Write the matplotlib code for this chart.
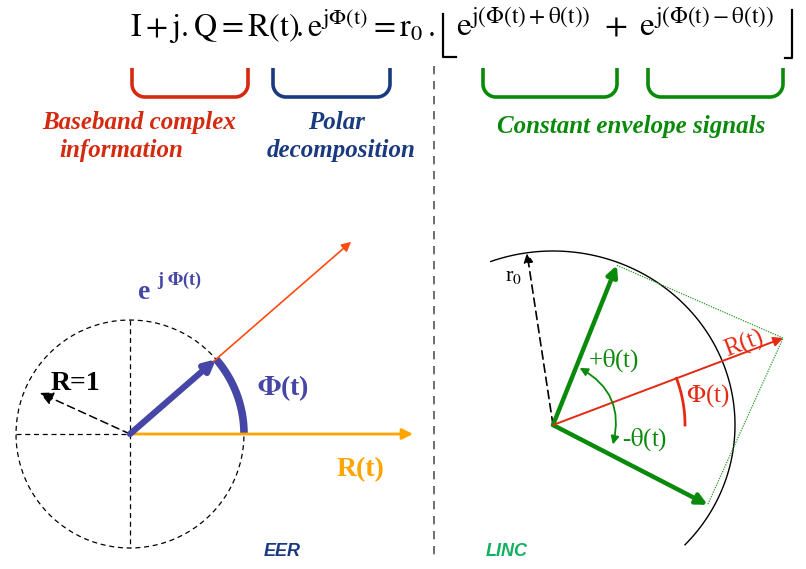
import numpy as np
import matplotlib.pyplot as plt
import matplotlib as mpl

mpl.rcParams['mathtext.fontset'] = 'stix'

# --- diagram values (pixel space of the 806x569 slide) ---
eer_center = (130, 434)
eer_radius = 114
eer_phi_deg = 41
eer_long_len = 293
eer_r_len = 283
eer_unit_deg = 155.5
eer_unit_len = 99

linc_center = (553, 425)
linc_r0_axes = (182, 174)
linc_phi_deg = 20.7
linc_R_len = 246
linc_up = (68.2, 172)      # angle, length
linc_down = (-27.3, 174)
linc_r0_deg = 98.6
linc_r0_len = 174

eq_left = r'$\mathrm{I+j.Q=R\left(t\right)\!.e^{j\Phi(t)}=r_0\,.}$'
eq_right = r'$\mathrm{e^{j(\Phi(t)+\theta(t))}\ +\ e^{j(\Phi(t)-\theta(t))}}$'
brackets = [(132, 248, '#d42a10'), (273, 390, '#1a3a80'),
            (483, 617, '#0a8a0a'), (648, 783, '#0a8a0a')]

RED = '#d42a10'
NAVY = '#1a3a80'
GREEN = '#0a8a0a'
BLUE = '#4646a6'
ORANGE = '#ffa500'


def pt(c, r, deg):
    a = np.radians(deg)
    return (c[0] + r * np.cos(a), c[1] - r * np.sin(a))


def arrow(ax, start, end, color, lw, ms=14, ls='-', style='-|>'):
    ax.annotate('', xy=end, xytext=start,
                arrowprops=dict(arrowstyle=style, color=color, lw=lw, ls=ls,
                                mutation_scale=ms, shrinkA=0, shrinkB=0))


def arc(ax, c, rx, ry, a0, a1, **kw):
    t = np.radians(np.linspace(a0, a1, 100))
    ax.plot(c[0] + rx * np.cos(t), c[1] - ry * np.sin(t), **kw)


fig = plt.figure(figsize=(8.06, 5.69), dpi=100)
ax = fig.add_axes([0, 0, 1, 1])
ax.set_xlim(0, 806)
ax.set_ylim(569, 0)
ax.set_aspect('equal')
ax.axis('off')

serif = 'Liberation Serif'

# equation, split around the floor brackets
ax.text(435, 26, eq_left, fontsize=23, ha='right', va='center', color='black')
ax.text(456, 26, eq_right, fontsize=24, ha='left', va='center', color='black')
ax.plot([456, 443, 443], [57, 57, 14], color='black', lw=1.6)
ax.plot([785, 792, 792], [58, 58, 10], color='black', lw=1.6)

# brackets
for x0, x1, col in brackets:
    r = 13
    t = np.linspace(np.pi, 1.5 * np.pi, 20)
    xs = [x0] + list(x0 + r + r * np.cos(t)) + list(x1 - r - r * np.cos(t[::-1])) + [x1]
    ys = [68] + list(97 - r - r * np.sin(t)) + list(97 - r - r * np.sin(t[::-1])) + [68]
    ax.plot(xs, ys, color=col, lw=2.6, solid_capstyle='butt')

lab = dict(fontfamily=serif, fontweight='bold', fontstyle='italic', fontsize=18, ha='center', va='center')
ax.text(139, 122, 'Baseband complex', color=RED, **lab)
ax.text(121, 150, 'information', color=RED, **lab)
ax.text(337, 122, 'Polar', color=NAVY, **lab)
ax.text(341, 150, 'decomposition', color=NAVY, **lab)
ax.text(631, 126, 'Constant envelope signals', color=GREEN, **lab)

# separator
ax.plot([434, 434], [66, 560], color='#555555', lw=1.2, ls=(0, (5, 4)))

# ---------------- EER ----------------
c = eer_center
arc(ax, c, eer_radius, eer_radius, 0, 360, color='black', lw=0.9, ls=(0, (4, 3)))
ax.plot([c[0] - eer_radius, c[0]], [c[1], c[1]], color='black', lw=0.9, ls=(0, (4, 3)))
ax.plot([c[0], c[0]], [c[1] - eer_radius, c[1] + eer_radius], color='black', lw=0.9, ls=(0, (4, 3)))
arrow(ax, c, pt(c, eer_unit_len, eer_unit_deg), 'black', 1.1, ms=20, ls=(0, (5, 3)))
ax.text(51, 383, 'R=1', fontfamily=serif, fontweight='bold', fontsize=20, ha='left', va='center')

arrow(ax, c, pt(c, eer_long_len, eer_phi_deg), '#ff4a10', 1.2, ms=14)
arrow(ax, c, (c[0] + eer_r_len, c[1]), ORANGE, 2.0, ms=16)
arc(ax, c, eer_radius, eer_radius, 0, eer_phi_deg, color=BLUE, lw=5.5, solid_capstyle='butt')
arrow(ax, c, pt(c, eer_radius, eer_phi_deg), BLUE, 4.5, ms=16)

ax.text(138, 292, 'e', fontfamily=serif, fontweight='bold', fontsize=20, color=BLUE, ha='left', va='center')
ax.text(157, 280, r'j $\mathbf{\Phi}$(t)', fontfamily=serif, fontweight='bold', fontsize=13, color=BLUE,
        ha='left', va='center')
ax.text(257, 388, r'$\mathbf{\Phi}$(t)', fontfamily=serif, fontweight='bold', fontsize=20, color=BLUE,
        ha='left', va='center')
ax.text(337, 470, 'R(t)', fontfamily=serif, fontweight='bold', fontsize=20, color=ORANGE,
        ha='left', va='center')
ax.text(282, 551, 'EER', fontfamily='Liberation Sans', fontweight='bold', fontstyle='italic', fontsize=13,
        color=NAVY, ha='center', va='center')

# ---------------- LINC ----------------
c = linc_center
arc(ax, c, linc_r0_axes[0], linc_r0_axes[1], -43.5, 110, color='black', lw=1.0)
arrow(ax, c, (810, c[1]), 'black', 1.4, ms=14)
arrow(ax, c, pt(c, linc_r0_len, linc_r0_deg), 'black', 1.2, ms=14, ls=(0, (5, 3)))
ax.text(505, 276, r'r$_0$', fontfamily=serif, fontsize=16, ha='left', va='center')

up = pt(c, linc_up[1], linc_up[0])
dn = pt(c, linc_down[1], linc_down[0])
tip = pt(c, linc_R_len, linc_phi_deg)
ax.plot([up[0], tip[0], dn[0]], [up[1], tip[1], dn[1]], color='#2a9a2a', lw=0.9, ls=(0, (1, 1)))
arrow(ax, c, up, GREEN, 3.2, ms=16)
arrow(ax, c, dn, GREEN, 3.2, ms=16)
arrow(ax, c, tip, '#e42a14', 1.4, ms=14)

arc(ax, c, 132, 132, 0, linc_phi_deg, color='#e42a14', lw=2.0)
ax.text(686, 396, r'$\mathrm{\Phi}$(t)', fontfamily=serif, fontsize=18, color='#e42a14', ha='left', va='center')
ax.text(744, 344, 'R(t)', fontfamily=serif, fontsize=18, color='#e42a14', ha='center', va='center',
        rotation=linc_phi_deg)

# theta double arrow
th = np.radians(np.array([65, -18]))
ax.annotate('', xy=(c[0] + 63 * np.cos(th[0]), c[1] - 63 * np.sin(th[0])),
            xytext=(c[0] + 63 * np.cos(th[-1]), c[1] - 63 * np.sin(th[-1])),
            arrowprops=dict(arrowstyle='<|-|>', color=GREEN, lw=1.3, mutation_scale=12,
                            shrinkA=0, shrinkB=0, connectionstyle='arc3,rad=0.38'))
ax.text(588, 361, r'+$\mathrm{\theta}$(t)', fontfamily=serif, fontsize=18, color=GREEN, ha='left', va='center')
ax.text(622, 440, r'-$\mathrm{\theta}$(t)', fontfamily=serif, fontsize=18, color=GREEN, ha='left', va='center')
ax.text(507, 552, 'LINC', fontfamily='Liberation Sans', fontweight='bold', fontstyle='italic', fontsize=13,
        color='#10b060', ha='center', va='center')

fig.savefig('out.png', dpi=100)
